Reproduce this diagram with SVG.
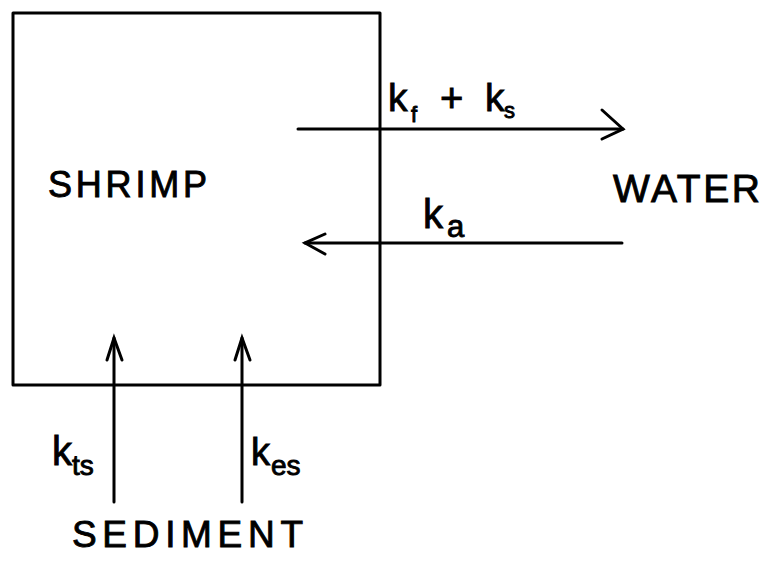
<svg xmlns="http://www.w3.org/2000/svg" width="764" height="564" viewBox="0 0 764 564">
<style>
.ln{fill:none;stroke:#000;stroke-width:3;stroke-linecap:round;stroke-linejoin:round}
.ah{fill:none;stroke:#000;stroke-width:3;stroke-linecap:round;stroke-linejoin:miter}
.t{font-family:"Liberation Sans","DejaVu Sans",sans-serif;fill:#000;stroke:#000;stroke-width:0.9}
</style>
<rect width="764" height="564" fill="#fff"/>
<g id="shrimp">
<rect class="ln" x="13" y="13" width="367" height="372"/>
<text class="t" x="48" y="197" font-size="36" textLength="159" lengthAdjust="spacing">SHRIMP</text>
</g>
<g id="water">
<text class="t" x="613" y="202" font-size="39" textLength="147" lengthAdjust="spacing">WATER</text>
</g>
<g id="sediment">
<text class="t" x="72" y="547" font-size="37" textLength="231" lengthAdjust="spacing">SEDIMENT</text>
</g>
<g id="connectors">
<path class="ln" d="M298,129 H623"/>
<path class="ah" d="M602,110 L623,129 L602,139"/>
<path class="ln" d="M305,243 H622"/>
<path class="ah" d="M325,234 L305,243 L325,254"/>
<path class="ln" d="M114,502 V338"/>
<path class="ah" d="M107,360 L114,338 L122,360"/>
<path class="ln" d="M242,502 V338"/>
<path class="ah" d="M235,360 L242,338 L250,360"/>
<text class="t" x="388" y="111" font-size="39">k</text>
<text class="t" x="411" y="122" font-size="22">f</text>
<text class="t" x="440" y="112" font-size="40">+</text>
<text class="t" x="485" y="111" font-size="39">k</text>
<text class="t" x="504" y="118" font-size="22">s</text>
<text class="t" x="423" y="228" font-size="40">k</text>
<text class="t" x="447" y="237" font-size="31">a</text>
<text class="t" x="52" y="465" font-size="40">k</text>
<text class="t" x="72" y="475" font-size="28">ts</text>
<text class="t" x="251" y="465" font-size="38">k</text>
<text class="t" x="271" y="475" font-size="28">es</text>
</g>
</svg>
